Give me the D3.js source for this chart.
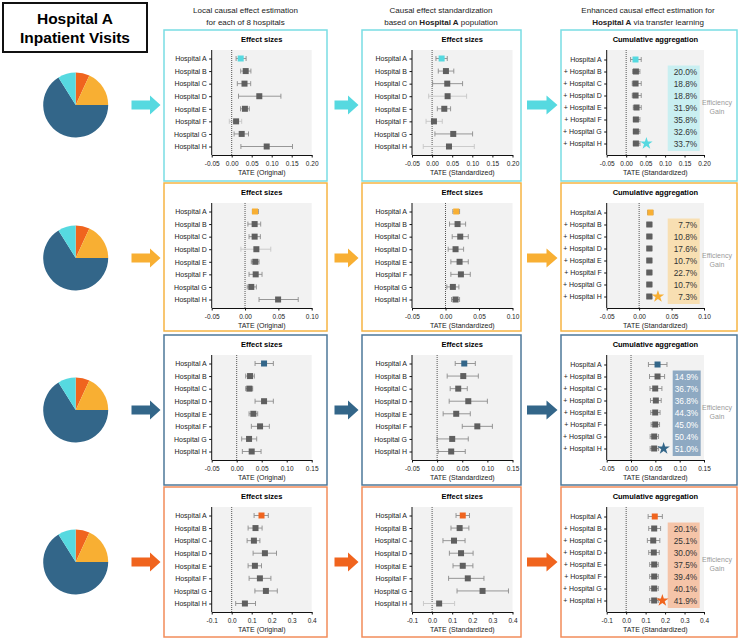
<!DOCTYPE html>
<html>
<head>
<meta charset="utf-8">
<script src="https://cdn.jsdelivr.net/npm/d3@7"></script>
<style>
  body { margin: 0; background: #fff; }
  text { font-family: "Liberation Sans", Arial, Helvetica, sans-serif; }
</style>
</head>
<body>
<svg width="739" height="640"></svg>
<script>

// ---- data ----
const hospitals  = ["Hospital A", "Hospital B", "Hospital C", "Hospital D",
                    "Hospital E", "Hospital F", "Hospital G", "Hospital H"];
const cumulative = ["Hospital A", "+ Hospital B", "+ Hospital C", "+ Hospital D",
                    "+ Hospital E", "+ Hospital F", "+ Hospital G", "+ Hospital H"];

// inpatient visit shares, clockwise from 12 o'clock
const pieShares = [0.069, 0.181, 0.661, 0.089];

// x domains and tick labels per row
const domains = [[-0.05, 0.20], [-0.05, 0.10], [-0.05, 0.15], [-0.1, 0.4]];
const ticks = [
  [-0.05, 0, 0.05, 0.10, 0.15, 0.20],
  [-0.05, 0, 0.05, 0.10],
  [-0.05, 0, 0.05, 0.10, 0.15],
  [-0.1, 0, 0.1, 0.2, 0.3, 0.4]
];
const tickDigits = [2, 2, 2, 1];

// [estimate, lower, upper]
const orig_r1 = [[0.0225, 0.011, 0.036], [0.035, 0.0225, 0.048], [0.032, 0.014, 0.0475], [0.069, 0.017, 0.123],
                 [0.033, 0.022, 0.044], [0.011, -0.006, 0.025], [0.025, 0.006, 0.042], [0.0875, 0.023, 0.152]];
const orig_r2 = [[0.015, 0.011, 0.020], [0.0144, 0.0043, 0.0235], [0.0144, 0.006, 0.023], [0.017, -0.0062, 0.0386],
                 [0.0154, 0.0094, 0.021], [0.016, 0.006, 0.0255], [0.0094, 0.0033, 0.017], [0.0496, 0.021, 0.0798]];
const orig_r3 = [[0.0547, 0.0367, 0.0733], [0.0267, 0.018, 0.0353], [0.0253, 0.018, 0.032], [0.0547, 0.0367, 0.0733],
                 [0.0333, 0.0247, 0.042], [0.0467, 0.0293, 0.0653], [0.0247, 0.010, 0.040], [0.030, 0.0113, 0.0487]];
const orig_r4 = [[0.149, 0.112, 0.183], [0.119, 0.082, 0.152], [0.111, 0.077, 0.141], [0.166, 0.107, 0.224],
                 [0.116, 0.082, 0.149], [0.141, 0.087, 0.196], [0.171, 0.116, 0.228], [0.066, 0.020, 0.119]];

const std_r1 = [[0.0237, 0.0096, 0.0377], [0.0344, 0.0154, 0.054], [0.0377, 0.0013, 0.0758], [0.0386, -0.0086, 0.0858],
                [0.0303, 0.013, 0.046], [0.0046, -0.015, 0.0253], [0.0526, 0.007, 0.1007], [0.042, -0.022, 0.105]];
const std_r2 = [[0.016, 0.011, 0.021], [0.018, 0.006, 0.030], [0.022, 0.010, 0.034], [0.015, 0.004, 0.027],
                [0.021, 0.008, 0.034], [0.023, 0.008, 0.037], [0.011, 0.002, 0.020], [0.015, 0.009, 0.021]];
const std_r3 = [[0.054, 0.036, 0.076], [0.052, 0.020, 0.082], [0.042, 0.026, 0.060], [0.062, 0.024, 0.100],
                [0.038, 0.012, 0.066], [0.080, 0.050, 0.110], [0.030, 0.000, 0.062], [0.028, 0.002, 0.056]];
const std_r4 = [[0.1525, 0.119, 0.186], [0.137, 0.094, 0.183], [0.109, 0.054, 0.164], [0.144, 0.086, 0.204],
                [0.1525, 0.104, 0.203], [0.1776, 0.082, 0.258], [0.251, 0.124, 0.380], [0.035, -0.043, 0.112]];

const cum_r1 = [[0.024, 0.0114, 0.0387], [0.0251, 0.0166, 0.0353], [0.0242, 0.0157, 0.0387], [0.0242, 0.0157, 0.0387],
                [0.0268, 0.0183, 0.0387], [0.0251, 0.0183, 0.0353], [0.0251, 0.0183, 0.0353], [0.0251, 0.0183, 0.0353]];
const cum_r2 = [[0.0173, 0.0131, 0.0214], [0.0157, 0.0121, 0.0198], [0.0157, 0.0121, 0.0198], [0.0157, 0.0121, 0.0198],
                [0.0157, 0.0121, 0.0198], [0.0157, 0.0121, 0.0198], [0.0157, 0.0121, 0.0198], [0.0157, 0.0121, 0.0198]];
const cum_r3 = [[0.0545, 0.0358, 0.0739], [0.0545, 0.038, 0.069], [0.0497, 0.039, 0.0635], [0.051, 0.040, 0.062],
                [0.0497, 0.0406, 0.0597], [0.0497, 0.0413, 0.0586], [0.0476, 0.0393, 0.0566], [0.0476, 0.0393, 0.0566]];
const cum_r4 = [[0.147, 0.113, 0.186], [0.144, 0.116, 0.177], [0.139, 0.109, 0.173], [0.142, 0.116, 0.170],
                [0.144, 0.121, 0.165], [0.144, 0.121, 0.165], [0.144, 0.121, 0.165], [0.144, 0.121, 0.165]];

// final transfer-learning estimate (star) per row
const starValues = [0.052, 0.029, 0.067, 0.186];

// efficiency gain (%) for + Hospital B .. + Hospital H
const gain_r1 = [20.0, 18.8, 18.8, 31.9, 35.8, 32.6, 33.7];
const gain_r2 = [7.7, 10.8, 17.6, 10.7, 22.7, 10.7, 7.3];
const gain_r3 = [14.9, 36.7, 36.8, 44.3, 45.0, 50.4, 51.0];
const gain_r4 = [20.1, 25.1, 30.0, 37.5, 39.4, 40.1, 41.9];

// ---- styles / layout ----
const pieColors    = ["#F0641E", "#F8AF33", "#336689", "#56D9E0"];
const rowColors    = ["#56D9E0", "#F8AF33", "#336689", "#F0641E"];
const borderColors = ["#7ADDE3", "#F6B443", "#4E7899", "#F28C5A"];
const gainFill     = ["#C9EFF1", "#F8DFB2", "#8EA9C2", "#F5C4A8"];
const gainText     = ["#333", "#333", "#fff", "#333"];
const gainBoxLeft  = [61, 61, 66, 61];
const gainBoxWidth = [32, 32, 28, 32];

const rowTop = [30, 183, 335, 487];
const rowH   = [151, 148, 150, 150];
const cols = [
  { x: 164, w: 163, plotL: 47.7, plotW: 100,  y0: 28.5, y1: 116.5 },
  { x: 362, w: 159, plotL: 50,   plotW: 100.5, y0: 28.5, y1: 116.5 },
  { x: 561, w: 176, plotL: 45.7, plotW: 97.3, y0: 29.5, y1: 113.5 }
];

const svg = d3.select("svg");

const origData = [orig_r1, orig_r2, orig_r3, orig_r4];
const stdData  = [std_r1, std_r2, std_r3, std_r4];
const cumData  = [cum_r1, cum_r2, cum_r3, cum_r4];
const gainData = [gain_r1, gain_r2, gain_r3, gain_r4];

// ---- title box and column headers ----
svg.append("rect").attr("x", 3).attr("y", 3).attr("width", 144).attr("height", 49)
  .attr("fill", "none").attr("stroke", "#111").attr("stroke-width", 2);
svg.append("text").attr("x", 75).attr("y", 24).attr("text-anchor", "middle")
  .style("font-size", "15.5px").style("font-weight", "bold").text("Hospital A");
svg.append("text").attr("x", 75).attr("y", 43).attr("text-anchor", "middle")
  .style("font-size", "15.5px").style("font-weight", "bold").text("Inpatient Visits");

const headers = [
  { cx: 245.5, l1: [["Local causal effect estimation", false]], l2: [["for each of 8 hospitals", false]] },
  { cx: 441,   l1: [["Causal effect standardization", false]], l2: [["based on ", false], ["Hospital A", true], [" population", false]] },
  { cx: 648,   l1: [["Enhanced causal effect estimation for", false]], l2: [["Hospital A", true], [" via transfer learning", false]] }
];
headers.forEach(h => {
  [h.l1, h.l2].forEach((parts, i) => {
    const t = svg.append("text").attr("x", h.cx).attr("y", 13 + i * 11.5)
      .attr("text-anchor", "middle").style("font-size", "8px").attr("fill", "#222");
    parts.forEach(p => t.append("tspan").style("font-weight", p[1] ? "bold" : "normal").text(p[0]));
  });
});

// ---- helpers ----
function arrow(x0, xh, x1, cy, color) {
  const pts = [[x0, cy - 4.5], [xh, cy - 4.5], [xh, cy - 9.5], [x1, cy], [xh, cy + 9.5], [xh, cy + 4.5], [x0, cy + 4.5]];
  svg.append("polygon").attr("points", pts.map(p => p.join(",")).join(" ")).attr("fill", color);
}

function fmtTick(digits) {
  return d => (Math.abs(d) < 1e-9 ? 0 : d).toFixed(digits);
}

function forest(r, c, data, labels, title, xlabel) {
  const col = cols[c];
  const T = rowTop[r];
  const g = svg.append("g");

  g.append("rect").attr("x", col.x).attr("y", T).attr("width", col.w).attr("height", rowH[r])
    .attr("fill", "#fff").attr("stroke", borderColors[r]).attr("stroke-width", 1.5);

  const x = d3.scaleLinear().domain(domains[r]).range([col.x + col.plotL, col.x + col.plotL + col.plotW]);
  const y = d3.scalePoint().domain(labels).range([T + col.y0, T + col.y1]);
  const top = T + 20, bottom = T + 125;

  g.append("text").attr("x", col.x + col.plotL + col.plotW / 2).attr("y", T + 12)
    .attr("text-anchor", "middle").style("font-size", "7.5px").style("font-weight", "bold")
    .text(title);

  g.append("rect").attr("x", x.range()[0]).attr("y", top)
    .attr("width", col.plotW).attr("height", bottom - top).attr("fill", "#F2F2F2");

  // efficiency gain box (cumulative panel only)
  if (c === 2) {
    const bx = x.range()[0] + gainBoxLeft[r];
    const by = y(labels[1]) - 6, bh = y(labels[7]) + 7.5 - by;
    g.append("rect").attr("x", bx).attr("y", by).attr("width", gainBoxWidth[r]).attr("height", bh)
      .attr("fill", gainFill[r]);
    g.selectAll("text.gain").data(gainData[r]).enter().append("text")
      .attr("class", "gain")
      .attr("x", bx + gainBoxWidth[r] - 2.5)
      .attr("y", (d, i) => y(labels[i + 1]) + 3)
      .attr("text-anchor", "end").style("font-size", "8.3px").attr("fill", gainText[r])
      .text(d => d.toFixed(1) + "%");
    g.append("text").attr("x", x.range()[1] + 13).attr("y", T + 75).attr("text-anchor", "middle")
      .style("font-size", "7px").attr("fill", "#9a9a9a").text("Efficiency");
    g.append("text").attr("x", x.range()[1] + 13).attr("y", T + 83.5).attr("text-anchor", "middle")
      .style("font-size", "7px").attr("fill", "#9a9a9a").text("Gain");
  }

  // zero reference line
  g.append("line").attr("x1", x(0)).attr("x2", x(0)).attr("y1", top).attr("y2", bottom)
    .attr("stroke", "#555").attr("stroke-width", 1).attr("stroke-dasharray", "1,1");

  // axes
  const xa = g.append("g").attr("transform", `translate(0,${bottom})`)
    .call(d3.axisBottom(x).tickValues(ticks[r]).tickFormat(fmtTick(tickDigits[r]))
      .tickSize(2.5).tickSizeOuter(0));
  xa.select(".domain").attr("stroke", "#111");
  xa.selectAll(".tick line").attr("stroke", "#111");
  xa.selectAll("text").style("font-size", "6.5px").attr("fill", "#222").attr("dy", "0.9em")
    .style("font-family", '"Liberation Sans", Arial, sans-serif');

  const ya = g.append("g").attr("transform", `translate(${x.range()[0]},0)`)
    .call(d3.axisLeft(y).tickSize(2.5).tickPadding(2.5));
  ya.select(".domain").remove();
  ya.selectAll(".tick line").attr("stroke", "#111");
  ya.selectAll("text").style("font-size", "7px").attr("fill", "#222")
    .style("font-family", '"Liberation Sans", Arial, sans-serif');
  g.append("line").attr("x1", x.range()[0]).attr("x2", x.range()[0]).attr("y1", top).attr("y2", bottom)
    .attr("stroke", "#111").attr("stroke-width", 1);

  g.append("text").attr("x", col.x + col.plotL + col.plotW / 2).attr("y", T + 145)
    .attr("text-anchor", "middle").style("font-size", "7px").attr("fill", "#222").text(xlabel);

  // intervals
  const rows = g.selectAll("g.row").data(data).enter().append("g").attr("class", "row");
  const ciColor = d => (d[1] < 0 ? "#c6c6c6" : "#8c8c8c");
  rows.append("line")
    .attr("x1", d => x(d[1])).attr("x2", d => x(d[2]))
    .attr("y1", (d, i) => y(labels[i])).attr("y2", (d, i) => y(labels[i]))
    .attr("stroke", ciColor).attr("stroke-width", 0.9);
  rows.append("line")
    .attr("x1", d => x(d[1])).attr("x2", d => x(d[1]))
    .attr("y1", (d, i) => y(labels[i]) - 2.5).attr("y2", (d, i) => y(labels[i]) + 2.5)
    .attr("stroke", ciColor).attr("stroke-width", 0.9);
  rows.append("line")
    .attr("x1", d => x(d[2])).attr("x2", d => x(d[2]))
    .attr("y1", (d, i) => y(labels[i]) - 2.5).attr("y2", (d, i) => y(labels[i]) + 2.5)
    .attr("stroke", ciColor).attr("stroke-width", 0.9);
  rows.append("rect")
    .attr("x", d => x(d[0]) - 3).attr("y", (d, i) => y(labels[i]) - 3)
    .attr("width", 6).attr("height", 6)
    .attr("fill", (d, i) => (i === 0 ? rowColors[r] : "#5f5f5f"));

  if (c === 2) {
    g.append("path")
      .attr("d", d3.symbol(d3.symbolStar, 48)())
      .attr("transform", `translate(${x(starValues[r])},${y(labels[7])})`)
      .attr("fill", rowColors[r]);
  }
}

// ---- rows ----
const pie = d3.pie().sort(null).value(d => d);
const arc = d3.arc().innerRadius(0).outerRadius(32.5);

rowTop.forEach((T, r) => {
  const cy = T + 75;
  svg.append("g").attr("transform", `translate(75.7,${cy})`)
    .selectAll("path").data(pie(pieShares)).enter().append("path")
    .attr("d", arc).attr("fill", (d, i) => pieColors[i]);

  arrow(131.5, 150, 160.5, cy, rowColors[r]);
  arrow(334.5, 348, 358.5, cy, rowColors[r]);
  arrow(527, 546.5, 557.5, cy, rowColors[r]);

  forest(r, 0, origData[r], hospitals, "Effect sizes", "TATE (Original)");
  forest(r, 1, stdData[r], hospitals, "Effect sizes", "TATE (Standardized)");
  forest(r, 2, cumData[r], cumulative, "Cumulative aggregation", "TATE (Standardized)");
});

</script>
</body>
</html>
